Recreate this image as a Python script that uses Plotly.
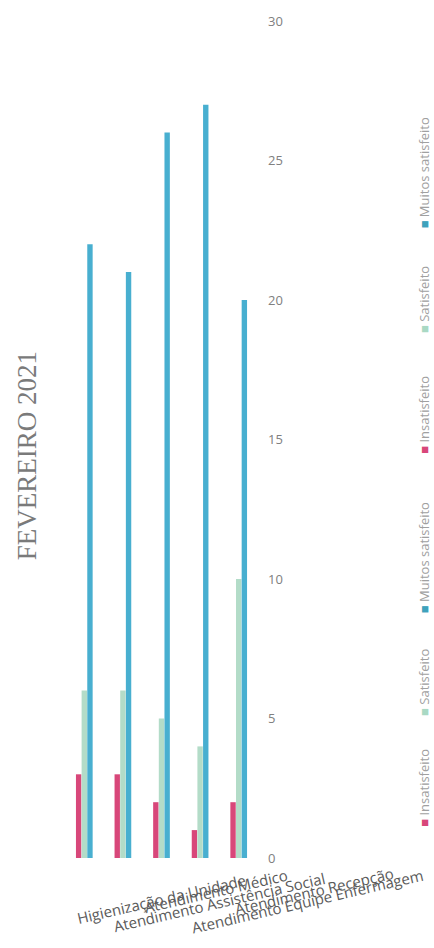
import plotly.graph_objects as go

categories = ["Higienização da Unidade", "Atendimento Médico", "Atendimento Assistência Social",
              "Atendimento Recepção", "Atendimento Equipe Enfermagem"]
series_names = ["Insatisfeito", "Satisfeito", "Muitos satisfeito"]
insatisfeito = [3, 3, 2, 1, 2]
satisfeito = [6, 6, 5, 4, 10]
muito_satisfeito = [22, 21, 26, 27, 20]
y_ticks = [0, 5, 10, 15, 20, 25, 30]
title_text = "FEVEREIRO 2021"

colors = ["#d8477a", "#b3dcc8", "#48afd0"]
legend_colors = ["#d8477a", "#a9d9c4", "#3ea2bc"]

W, H = 434, 948
L, R, T, B = 65, 176, 12, 90
pw, ph = W - L - R, H - T - B

def px2paper(x, y):
    return (x - L) / pw, (H - B - y) / ph

fig = go.Figure()
for name, vals, col in zip(series_names, [insatisfeito, satisfeito, muito_satisfeito], colors):
    fig.add_trace(go.Bar(x=categories, y=vals, name=name, marker_color=col,
                         marker_line_width=0, showlegend=False))

# category labels (rotated, overlapping as in the reference)
label_shift = [(-12, -72), (17, -62), (-52, -80), (30, -63), (-51, -82)]
for cat, (dx, dy) in zip(categories, label_shift):
    fig.add_annotation(x=cat, xref="x", y=0, yref="paper", text=cat, showarrow=False,
                       textangle=-13, xanchor="left", yanchor="bottom", xshift=dx, yshift=dy,
                       font=dict(family="Open Sans", size=15, color="#5a5a5a"))

# title
tx, ty = px2paper(27, 452)
fig.add_annotation(x=tx, y=ty, xref="paper", yref="paper", text=title_text, showarrow=False,
                   textangle=-90, xanchor="center", yanchor="middle",
                   font=dict(family="Liberation Serif", size=27, color="#7a7a7a"))

# legend drawn twice, rotated, as in the reference
legend_centers = [787, 681, 555, 410, 294, 166]
for i, cy in enumerate(legend_centers):
    k = i % 3
    lx, ly = px2paper(424, cy)
    fig.add_annotation(x=lx, y=ly, xref="paper", yref="paper",
                       text=f'<span style="color:{legend_colors[k]}">■</span> {series_names[k]}',
                       showarrow=False, textangle=-90, xanchor="center", yanchor="middle",
                       font=dict(family="Open Sans", size=13, color="#a0a0a0"))

fig.update_layout(
    width=W, height=H, margin=dict(l=L, r=R, t=T, b=B),
    paper_bgcolor="white", plot_bgcolor="white",
    barmode="group", bargap=0.56, bargroupgap=0.05,
    showlegend=False,
    xaxis=dict(showticklabels=False, showgrid=False, zeroline=False, showline=False, ticks=""),
    yaxis=dict(range=[0, 30], side="right", tickvals=y_ticks, ticktext=[str(v) for v in y_ticks],
               showgrid=False, zeroline=False, showline=False, ticks="", ticklabelstandoff=9,
               tickfont=dict(family="Open Sans", size=13, color="#808080")),
)

fig.write_html("out.html")
